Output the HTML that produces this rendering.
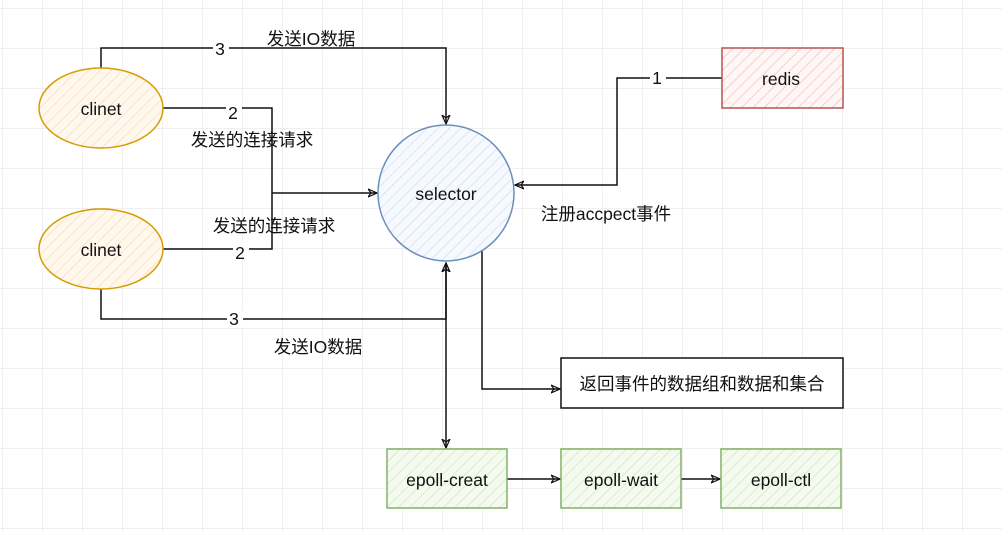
<!DOCTYPE html>
<html><head><meta charset="utf-8"><style>
html,body{margin:0;padding:0;background:#fff}
svg{display:block}
text{font-family:"Liberation Sans","Noto Sans CJK SC",sans-serif;font-size:17.5px;fill:#111}
</style></head><body>
<svg width="1002" height="533" viewBox="0 0 1002 533" xmlns="http://www.w3.org/2000/svg">
<defs>
<pattern id="g" x="2" y="8" width="40" height="40" patternUnits="userSpaceOnUse">
<path d="M0 0H40M0 0V40" stroke="#e0e0e0" stroke-width="1" fill="none"/>
</pattern>
<pattern id="hy" width="8" height="8" patternUnits="userSpaceOnUse" patternTransform="rotate(45)"><rect width="8" height="8" fill="#fff8ee"/><line x1="0" y1="0" x2="0" y2="8" stroke="#fde4c4" stroke-width="2"/></pattern>
<pattern id="hb" width="8" height="8" patternUnits="userSpaceOnUse" patternTransform="rotate(45)"><rect width="8" height="8" fill="#f6f9fd"/><line x1="0" y1="0" x2="0" y2="8" stroke="#dbe6f5" stroke-width="2"/></pattern>
<pattern id="hr" width="8" height="8" patternUnits="userSpaceOnUse" patternTransform="rotate(45)"><rect width="8" height="8" fill="#fff6f6"/><line x1="0" y1="0" x2="0" y2="8" stroke="#f6cfcf" stroke-width="2"/></pattern>
<pattern id="hg" width="8" height="8" patternUnits="userSpaceOnUse" patternTransform="rotate(45)"><rect width="8" height="8" fill="#f5faf1"/><line x1="0" y1="0" x2="0" y2="8" stroke="#d8ecc9" stroke-width="2"/></pattern>
<marker id="a" viewBox="0 0 10 10" refX="9" refY="5" markerWidth="10" markerHeight="10" orient="auto-start-reverse" markerUnits="userSpaceOnUse"><path d="M0 1L9 5L0 9L3 5Z" fill="none" stroke="#111" stroke-width="1.2"/></marker>
</defs>
<rect width="1002" height="533" fill="url(#g)"/>

<g fill="none" stroke="#111" stroke-width="1.5">
<path d="M101 68V48H446V124" marker-end="url(#a)"/>
<path d="M163 108H272V249H163"/>
<path d="M272 193H377" marker-end="url(#a)"/>
<path d="M101 289V319H446V263" marker-end="url(#a)"/>
<path d="M722 78H617V185H515" marker-end="url(#a)"/>
<path d="M446 263V448" marker-start="url(#a)" marker-end="url(#a)"/>
<path d="M482 250V389H560" marker-end="url(#a)"/>
<path d="M507 479H560" marker-end="url(#a)"/>
<path d="M681 479H720" marker-end="url(#a)"/>
</g>

<ellipse cx="101" cy="108" rx="62" ry="40" fill="url(#hy)" stroke="#d79b00" stroke-width="1.5"/>
<ellipse cx="101" cy="249" rx="62" ry="40" fill="url(#hy)" stroke="#d79b00" stroke-width="1.5"/>
<circle cx="446" cy="193" r="68" fill="url(#hb)" stroke="#6c8ebf" stroke-width="1.5"/>
<rect x="722" y="48" width="121" height="60" fill="url(#hr)" stroke="#b85450" stroke-width="1.5"/>
<rect x="561" y="358" width="282" height="50" fill="#fff" stroke="#111" stroke-width="1.5"/>
<rect x="387" y="449" width="120" height="59" fill="url(#hg)" stroke="#82b366" stroke-width="1.5"/>
<rect x="561" y="449" width="120" height="59" fill="url(#hg)" stroke="#82b366" stroke-width="1.5"/>
<rect x="721" y="449" width="120" height="59" fill="url(#hg)" stroke="#82b366" stroke-width="1.5"/>

<g text-anchor="middle">
<text x="101" y="115">clinet</text>
<text x="101" y="256">clinet</text>
<text x="446" y="200">selector</text>
<text x="781" y="85">redis</text>
<text x="702" y="390">返回事件的数据组和数据和集合</text>
<text x="447" y="486">epoll-creat</text>
<text x="621" y="486">epoll-wait</text>
<text x="781" y="486">epoll-ctl</text>
</g>

<g text-anchor="middle">
<rect x="213" y="40" width="16" height="16" fill="#fff"/><text x="220" y="55">3</text>
<rect x="226" y="100" width="16" height="16" fill="#fff"/><text x="233" y="119">2</text>
<rect x="233" y="242" width="16" height="16" fill="#fff"/><text x="240" y="259">2</text>
<rect x="227" y="311" width="16" height="16" fill="#fff"/><text x="234" y="325">3</text>
<rect x="650" y="70" width="16" height="16" fill="#fff"/><text x="657" y="84">1</text>
<text x="311" y="45">发送IO数据</text>
<text x="252" y="146">发送的连接请求</text>
<text x="274" y="232">发送的连接请求</text>
<text x="318" y="353">发送IO数据</text>
<text x="606" y="220">注册accpect事件</text>
</g>
</svg>
</body></html>
